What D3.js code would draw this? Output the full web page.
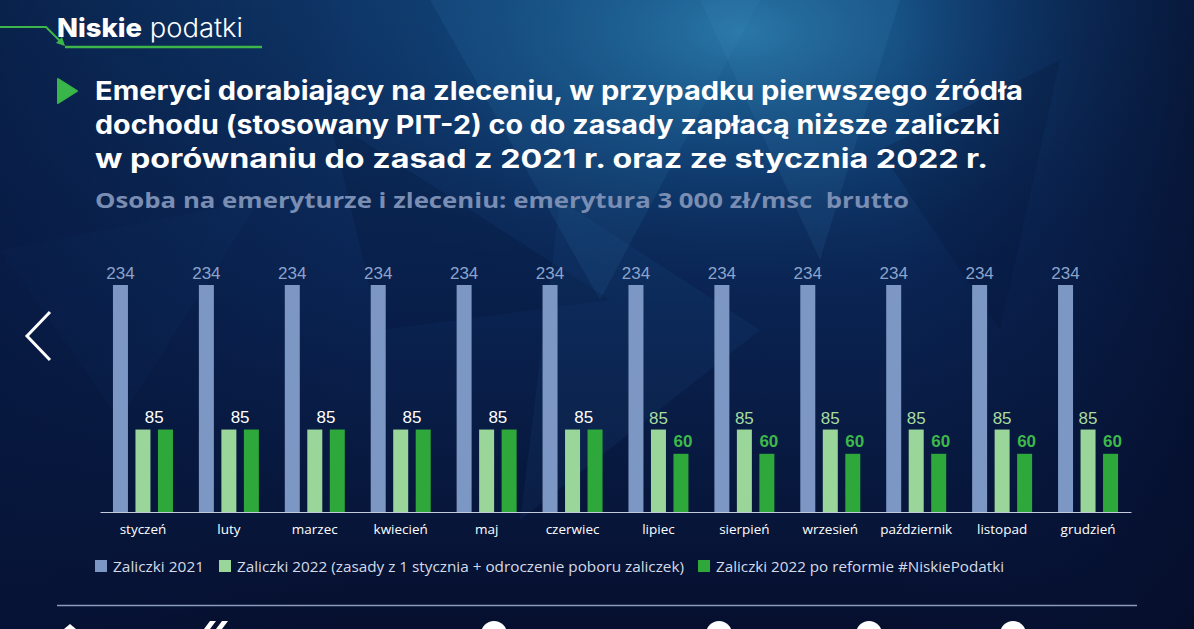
<!DOCTYPE html>
<html><head><meta charset="utf-8">
<script src="https://cdn.jsdelivr.net/npm/d3@7"></script>
<style>html,body{margin:0;padding:0;background:#081a40;overflow:hidden}svg{display:block}</style>
</head><body>
<svg id="c" width="1194" height="629"></svg>
<script>
const months = ["styczeń","luty","marzec","kwiecień","maj","czerwiec","lipiec","sierpień","wrzesień","październik","listopad","grudzień"];
const zal2021 = [234,234,234,234,234,234,234,234,234,234,234,234];
const zal2022 = [85,85,85,85,85,85,85,85,85,85,85,85];
const zalReforma = [85,85,85,85,85,85,60,60,60,60,60,60];
const seriesNames = ["Zaliczki 2021","Zaliczki 2022 (zasady z 1 stycznia + odroczenie poboru zaliczek)","Zaliczki 2022 po reformie #NiskiePodatki"];
const seriesColors = ["#7c97c3","#9ad69a","#2fa83b"];
const titleLines = ["Emeryci dorabiający na zleceniu, w przypadku pierwszego źródła","dochodu (stosowany PIT-2) co do zasady zapłacą niższe zaliczki","w porównaniu do zasad z 2021 r. oraz ze stycznia 2022 r."];
const subtitle = "Osoba na emeryturze i zleceniu: emerytura 3 000 zł/msc  brutto";

const svg = d3.select("#c");
const W = 1194, H = 629;
const defs = svg.append("defs");
const lg = defs.append("linearGradient").attr("id","bg").attr("x1",0).attr("y1",0).attr("x2",0).attr("y2",1);
lg.append("stop").attr("offset","0%").attr("stop-color","#0e3667");
lg.append("stop").attr("offset","45%").attr("stop-color","#0a2453");
lg.append("stop").attr("offset","100%").attr("stop-color","#060f2e");
const rg = defs.append("radialGradient").attr("id","glow").attr("cx",0.62).attr("cy",0.05).attr("r",0.45);
rg.append("stop").attr("offset","0%").attr("stop-color","#2a7fae").attr("stop-opacity",0.85);
rg.append("stop").attr("offset","50%").attr("stop-color","#15528a").attr("stop-opacity",0.45);
rg.append("stop").attr("offset","100%").attr("stop-color","#0a2453").attr("stop-opacity",0);
const sg = defs.append("linearGradient").attr("id","side").attr("x1",0).attr("y1",0).attr("x2",1).attr("y2",0);
sg.append("stop").attr("offset","0%").attr("stop-color","#06153a").attr("stop-opacity",0.6);
sg.append("stop").attr("offset","30%").attr("stop-color","#06153a").attr("stop-opacity",0);
sg.append("stop").attr("offset","75%").attr("stop-color","#06153a").attr("stop-opacity",0);
sg.append("stop").attr("offset","100%").attr("stop-color","#050d2a").attr("stop-opacity",0.7);

svg.append("rect").attr("width",W).attr("height",H).attr("fill","url(#bg)");
svg.append("rect").attr("width",W).attr("height",H).attr("fill","url(#glow)");
const shards = [
  {p:[[430,0],[760,0],[600,300]], c:"#3a8cc0", o:0.12},
  {p:[[700,0],[900,0],[820,260]], c:"#4aa0d0", o:0.10},
  {p:[[330,120],[610,300],[380,330]], c:"#041233", o:0.25},
  {p:[[880,150],[1060,60],[1000,330]], c:"#041233", o:0.22},
  {p:[[560,200],[760,330],[520,520]], c:"#2b6fa6", o:0.10},
  {p:[[0,250],[260,200],[120,420]], c:"#1b4a80", o:0.12}
];
svg.append("g").selectAll("polygon").data(shards).join("polygon")
  .attr("points",d=>d.p.map(q=>q.join(",")).join(" "))
  .attr("fill",d=>d.c).attr("opacity",d=>d.o);
svg.append("rect").attr("width",W).attr("height",H).attr("fill","url(#side)");

// logo
const green = "#3cb54a";
svg.append("path").attr("d","M0,27 L46,27 L60,41").attr("fill","none").attr("stroke",green).attr("stroke-width",2);
svg.append("path").attr("d","M56,43 L65,46 L62,37 Z").attr("fill",green);
svg.append("line").attr("x1",65).attr("x2",262).attr("y1",47).attr("y2",47).attr("stroke",green).attr("stroke-width",2.5);
const logo = svg.append("text").attr("x",57).attr("y",37).attr("fill","#ffffff").attr("font-family","Inter, Lato, sans-serif").attr("font-size",26)
  .attr("textLength",186).attr("lengthAdjust","spacingAndGlyphs");
logo.append("tspan").attr("font-weight",800).text("Niskie");
logo.append("tspan").attr("font-weight",300).text(" podatki");

svg.append("path").attr("d","M58,79 L77,91 L58,103 Z").attr("fill","#39b54a").attr("stroke","#39b54a").attr("stroke-width",2).attr("stroke-linejoin","round");

const titleTargets = [928, 905, 893];
titleLines.forEach((t,i)=>{
  svg.append("text").attr("x",95).attr("y",100+i*34).attr("fill","#ffffff")
    .attr("font-family","Inter, Lato, sans-serif").attr("font-weight",700).attr("font-size",26).text(t)
    .attr("textLength",titleTargets[i]).attr("lengthAdjust","spacingAndGlyphs");
});
svg.append("text").attr("x",95).attr("y",208).attr("fill","#7a8db3").style("white-space","pre")
  .attr("font-family","'Open Sans', sans-serif").attr("font-weight",700).attr("font-size",22)
  .attr("textLength",814).attr("lengthAdjust","spacingAndGlyphs").text(subtitle);

svg.append("path").attr("d","M50,312 L27,336 L50,360").attr("fill","none").attr("stroke","#ffffff").attr("stroke-width",3);

// chart
const x = d3.scaleBand().domain(months).range([100,1131]).paddingInner(0).paddingOuter(0);
const xs = d3.scaleBand().domain([0,1,2]).range([-30,30]).paddingInner(1/3);
const y = d3.scaleLinear().domain([0,234]).range([512,285]);
const seriesData = [zal2021, zal2022, zalReforma];

const g = svg.append("g");
seriesData.forEach((arr,si)=>{
  g.append("g").selectAll("rect").data(arr).join("rect")
    .attr("x",(d,i)=>x(months[i])+x.bandwidth()/2+xs(si))
    .attr("width",xs.bandwidth())
    .attr("y",d=>y(d)).attr("height",d=>y(0)-y(d))
    .attr("fill",seriesColors[si]);
});

const axis = d3.axisBottom(x).tickSize(0).tickPadding(12);
const ax = svg.append("g").attr("transform",`translate(0,${y(0)})`).call(axis);
ax.select(".domain").attr("stroke","#c3cbdc").attr("stroke-width",1.2);
ax.selectAll("text").attr("fill","#ffffff").attr("font-family","'Open Sans', sans-serif").attr("font-size",13.5);

const lblFont = "'Liberation Sans', Arial, sans-serif";
g.append("g").selectAll("text").data(zal2021).join("text")
  .attr("x",(d,i)=>x(months[i])+x.bandwidth()/2+xs(0)+xs.bandwidth()/2)
  .attr("y",d=>y(d)-6).attr("text-anchor","middle")
  .attr("fill","#8ca3cb").attr("font-family",lblFont).attr("font-size",17).text(d=>d);
months.forEach((m,i)=>{
  const cx = x(m)+x.bandwidth()/2;
  const a = zal2022[i], b = zalReforma[i];
  if (a === b) {
    g.append("text").attr("x",cx+(xs(1)+xs(2)+xs.bandwidth())/2).attr("y",y(a)-7)
      .attr("text-anchor","middle").attr("fill","#ffffff").attr("font-family",lblFont).attr("font-size",17).text(a);
  } else {
    g.append("text").attr("x",cx+xs(1)+xs.bandwidth()/2).attr("y",y(a)-6)
      .attr("text-anchor","middle").attr("fill","#a7dca1").attr("font-family",lblFont).attr("font-size",17).text(a);
    g.append("text").attr("x",cx+xs(2)+xs.bandwidth()/2+2).attr("y",y(b)-7)
      .attr("text-anchor","middle").attr("fill","#3db84b").attr("font-family",lblFont).attr("font-weight",700).attr("font-size",17).text(b);
  }
});

const legX = [95, 219, 698];
const legW = [91, 447, 288];
seriesNames.forEach((n,i)=>{
  svg.append("rect").attr("x",legX[i]).attr("y",560).attr("width",12).attr("height",12).attr("fill",seriesColors[i]);
  svg.append("text").attr("x",legX[i]+18).attr("y",571.5).attr("fill","#d4dbe8")
    .attr("font-family","'Open Sans', sans-serif").attr("font-size",15.2)
    .attr("textLength",legW[i]).attr("lengthAdjust","spacingAndGlyphs").text(n);
});

svg.append("line").attr("x1",57).attr("x2",1137).attr("y1",605.5).attr("y2",605.5).attr("stroke","#8c9abb").attr("stroke-width",1.3);
[494,719,869,1013].forEach(cx=>{
  svg.append("circle").attr("cx",cx).attr("cy",634).attr("r",13).attr("fill","#ffffff");
});
svg.append("path").attr("d","M204,629 L210,621 L216,621 L210,629 Z M216,629 L222,621 L228,621 L222,629 Z").attr("fill","#ffffff");
svg.append("path").attr("d","M64,629 L70,624 L76,629 Z").attr("fill","#ffffff");
</script>
</body></html>
